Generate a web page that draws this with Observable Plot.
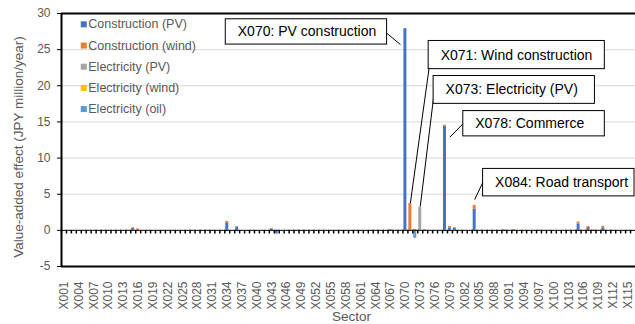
<!DOCTYPE html>
<html><head><meta charset="utf-8">
<script src="https://cdn.jsdelivr.net/npm/d3@7"></script>
<script src="https://cdn.jsdelivr.net/npm/@observablehq/plot@0.6"></script>
<style>
html,body{margin:0;padding:0;background:#fff;}
#chart svg{display:block;}
</style>
</head><body><div id="chart"></div>
<script>
// ---- categories & ticks ----
const sectors = Array.from({length: 116}, (_, i) => "X" + String(i + 1).padStart(3, "0"));
const xTickLabels = sectors.filter((_, i) => i % 3 === 0);
const yTicks = [-5, 0, 5, 10, 15, 20, 25, 30];
const gridTicks = [5, 10, 15, 20, 25];

// ---- series ----
const seriesNames = ["Construction (PV)", "Construction (wind)", "Electricity (PV)", "Electricity (wind)", "Electricity (oil)"];
const seriesColors = ["#4472C4", "#ED7D31", "#A5A5A5", "#FFC000", "#5B9BD5"];

const constructionPV = [
  ["X015", 0.28], ["X034", 1.05], ["X036", 0.45], ["X043", 0.2], ["X044", -0.5],
  ["X070", 27.9], ["X078", 14.4], ["X079", 0.35], ["X080", 0.3], ["X084", 2.9],
  ["X105", 0.85], ["X107", 0.4], ["X110", 0.35]
];
const constructionWind = [
  ["X015", 0.08], ["X016", 0.2], ["X034", 0.18], ["X036", 0.06], ["X043", 0.06],
  ["X067", 0.12], ["X071", 3.7], ["X072", 0.12], ["X074", 0.1], ["X078", 0.15],
  ["X079", 0.18], ["X084", 0.55], ["X092", 0.1], ["X105", 0.3], ["X107", 0.12],
  ["X108", 0.06], ["X110", 0.2]
];
const electricityPV = [
  ["X073", 3.2], ["X080", 0.1], ["X090", 0.12], ["X097", 0.05]
];
const electricityWind = [];
const electricityOil = [
  ["X072", -1.1]
];

// ---- annotations ----
const annotationLabels = ["X070: PV construction", "X071: Wind construction", "X073: Electricity (PV)", "X078: Commerce", "X084: Road transport"];
const annotationBoxes = [
  {x1: "X034", x2: "X066", y1: 25.7, y2: 29.2},
  {x1: "X075", x2: "X110", y1: 22.3, y2: 26.2},
  {x1: "X076", x2: "X108", y1: 17.5, y2: 21.35},
  {x1: "X082", x2: "X110", y1: 13.0, y2: 16.5},
  {x1: "X086", x2: "X116", y1: 4.7, y2: 8.5}
];
const annotationLeaders = [
  {x1: "X066", y1: 27.4, x2: "X069", y2: 25.7},
  {x1: "X075", y1: 23.5, x2: "X071", y2: 3.75},
  {x1: "X076", y1: 20.1, x2: "X073", y2: 3.3},
  {x1: "X082", y1: 15.0, x2: "X079", y2: 12.9},
  {x1: "X086", y1: 7.15, x2: "X084", y2: 4.25}
];

// ---- build table ----
const seriesData = [constructionPV, constructionWind, electricityPV, electricityWind, electricityOil];
const rows = [];
seriesData.forEach((arr, k) => arr.forEach(([sector, value]) => rows.push({sector, value, series: seriesNames[k]})));

const W = 635, H = 324;
const mL = 61, mR = 0, mT = 13, mB = 58;
const step = (W - mL - mR) / sectors.length;
const grey = "#595959";
const font = "'Liberation Sans', Arial, sans-serif";

const chart = Plot.plot({
  width: W, height: H,
  marginLeft: mL, marginRight: mR, marginTop: mT, marginBottom: mB,
  style: {fontFamily: font, fontSize: "12px", background: "#fff", overflow: "visible"},
  x: {domain: sectors, paddingInner: 0.4, paddingOuter: 0.2, axis: null},
  y: {domain: [-5, 30], axis: null},
  color: {domain: seriesNames, range: seriesColors},
  marks: [
    Plot.gridY(gridTicks, {stroke: "#d9d9d9", strokeOpacity: 1}),
    Plot.barY(rows, {x: "sector", y: "value", fill: "series"}),
    Plot.ruleY([0], {stroke: "black", strokeWidth: 1}),
    Plot.ruleX(sectors, {x: d => d, y1: 0, y2: -0.5, dx: -step / 2, stroke: "black", strokeWidth: 1.5}),
    Plot.ruleY([30, -5], {stroke: "black", strokeWidth: 2}),
    Plot.ruleX(["X001"], {x: d => d, dx: -step / 2, stroke: "black", strokeWidth: 2}),
    Plot.axisY({ticks: yTicks, tickFormat: d => String(d), tickSize: 4, tickPadding: 7, fontSize: 12, fill: grey, stroke: "black", label: null}),
    Plot.axisX({ticks: xTickLabels, tickRotate: -90, tickSize: 0, tickPadding: 15, fontSize: 12, fill: grey, label: null}),
    Plot.text(["Value-added effect (JPY million/year)"], {text: d => d, frameAnchor: "left", textAnchor: "middle", lineAnchor: "middle", rotate: -90, dx: -43, dy: 7, fontSize: 13.5, fill: grey}),
    Plot.text(["Sector"], {text: d => d, frameAnchor: "bottom", textAnchor: "middle", lineAnchor: "middle", dx: 3, dy: 50, fontSize: 13.5, fill: grey}),
    // legend
    Plot.dot(seriesNames, {x: () => "X005", y: (d, i) => 28.5 - i * 2.93, symbol: "square", r: 3.4, fill: d => d, stroke: null}),
    Plot.text(seriesNames, {text: d => d, x: () => "X005", y: (d, i) => 28.5 - i * 2.93, dx: 4.5, textAnchor: "start", fontSize: 12.5, fill: grey}),
    // annotations
    Plot.link(annotationLeaders, {x1: "x1", y1: "y1", x2: "x2", y2: "y2", stroke: "black", strokeWidth: 1}),
    Plot.rect(annotationBoxes, {x1: "x1", x2: "x2", y1: "y1", y2: "y2", fill: "white", stroke: "black", strokeWidth: 1}),
    Plot.text(annotationBoxes, {text: (d, i) => annotationLabels[i], x: "x1", y: d => (d.y1 + d.y2) / 2, dx: 10.5, textAnchor: "start", fontSize: 14, fill: "black"})
  ]
});
document.getElementById("chart").appendChild(chart);
</script>
</body></html>
